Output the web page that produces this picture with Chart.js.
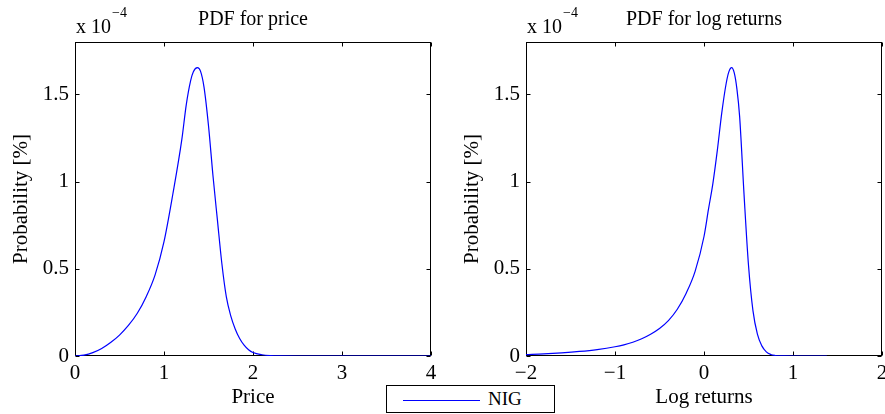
<!DOCTYPE html>
<html>
<head>
<meta charset="utf-8">
<script src="https://cdn.jsdelivr.net/npm/chart.js@4.4.1/dist/chart.umd.min.js"></script>
<style>
  html, body { margin: 0; padding: 0; background: #fff; }
  #wrap { position: relative; width: 885px; height: 414px; overflow: hidden; }
  #c1 { position: absolute; left: 0; top: 0; }
  #c2 { position: absolute; left: 442px; top: 0; }
  #legend { position: absolute; left: 386px; top: 385px; width: 167px; height: 26px;
            border: 1px solid #000; background: #fff; box-sizing: content-box; }
  #legend .ln { position: absolute; left: 16px; top: 14px; width: 77px; height: 1px; background: #0000ff; }
  #legend .tx { position: absolute; left: 101px; top: 2px; font: 19px 'Liberation Serif', serif; color: #000; }
</style>
</head>
<body>
<div id="wrap">
  <canvas id="c1" width="442" height="414"></canvas>
  <canvas id="c2" width="443" height="414"></canvas>
  <div id="legend"><div class="ln"></div><div class="tx">NIG</div></div>
</div>
<script>
// ---- data (y values in units of 1e-4) ----
const priceX = [0, 0.1, 0.2, 0.3, 0.4, 0.5, 0.6, 0.7, 0.8, 0.9, 1.0, 1.1, 1.2, 1.25, 1.3, 1.33, 1.375, 1.41, 1.45, 1.5, 1.55, 1.6, 1.65, 1.7, 1.75, 1.8, 1.85, 1.9, 1.95, 2.0, 2.1, 2.2, 2.3, 2.5, 3.0, 3.5, 4.0];
const pricePdf = [0, 0.005, 0.019, 0.043, 0.077, 0.12, 0.175, 0.245, 0.34, 0.465, 0.655, 0.93, 1.24, 1.44, 1.58, 1.63, 1.653, 1.633, 1.54, 1.32, 1.035, 0.78, 0.53, 0.34, 0.23, 0.155, 0.1, 0.062, 0.036, 0.02, 0.007, 0.002, 0.0005, 0, 0, 0, 0];
const logX = [-2, -1.8, -1.6, -1.4, -1.2, -1.0, -0.9, -0.8, -0.7, -0.6, -0.5, -0.4, -0.3, -0.2, -0.1, 0, 0.05, 0.1, 0.15, 0.2, 0.25, 0.28, 0.31, 0.34, 0.37, 0.4, 0.45, 0.5, 0.55, 0.6, 0.65, 0.7, 0.75, 0.8, 0.85, 0.9, 1.0, 1.2, 1.38];
const logPdf = [0.008, 0.012, 0.018, 0.026, 0.037, 0.053, 0.064, 0.079, 0.099, 0.125, 0.158, 0.203, 0.268, 0.36, 0.485, 0.685, 0.84, 0.99, 1.18, 1.395, 1.565, 1.63, 1.653, 1.623, 1.53, 1.375, 0.925, 0.52, 0.26, 0.125, 0.058, 0.024, 0.009, 0.003, 0.001, 0.0003, 0, 0, 0];
const yTicks = [0, 0.5, 1, 1.5];
const xTicksPrice = [0, 1, 2, 3, 4];
const xTicksLog = [-2, -1, 0, 1, 2];
const seriesName = 'NIG';
const titles = ['PDF for price', 'PDF for log returns'];
const xTitles = ['Price', 'Log returns'];
const yTitle = 'Probability [%]';
const exponentBase = 'x 10';
const exponentPow = '\u22124';

const FONT = "'Liberation Serif', serif";
Chart.defaults.font.family = FONT;
Chart.defaults.color = '#000';

const fmt = v => String(v).replace('-', '\u2212');

const framePlugin = {
  id: 'frame',
  beforeDatasetsDraw(chart) {
    const {ctx, chartArea: a, scales} = chart;
    const L = Math.round(a.left) + 0.5, R = Math.round(a.right) - 0.5;
    const T = Math.round(a.top) + 0.5, B = Math.round(a.bottom) - 0.5;
    ctx.save();
    ctx.strokeStyle = '#000';
    ctx.lineWidth = 1;
    ctx.strokeRect(L, T, R - L, B - T);
    const tl = 4;
    ctx.beginPath();
    scales.x.ticks.forEach(t => {
      const px = Math.round(scales.x.getPixelForValue(t.value)) + 0.5;
      ctx.moveTo(px, B); ctx.lineTo(px, B - tl);
      ctx.moveTo(px, T); ctx.lineTo(px, T + tl);
    });
    scales.y.ticks.forEach(t => {
      const py = Math.round(scales.y.getPixelForValue(t.value)) + 0.5;
      ctx.moveTo(L, py); ctx.lineTo(L + tl, py);
      ctx.moveTo(R, py); ctx.lineTo(R - tl, py);
    });
    ctx.stroke();
    ctx.restore();
  },
  afterDraw(chart) {
    const {ctx, chartArea: a} = chart;
    ctx.save();
    ctx.fillStyle = '#000';
    ctx.textBaseline = 'alphabetic';
    ctx.textAlign = 'left';
    ctx.font = '20px ' + FONT;
    const x0 = a.left + 1;
    ctx.fillText(exponentBase, x0, 33);
    const w = ctx.measureText(exponentBase).width;
    ctx.font = '14px ' + FONT;
    ctx.fillText(exponentPow, x0 + w + 1, 17);
    ctx.restore();
  }
};

function makeChart(id, xs, ys, xTicks, xmin, xmax, title, xTitle, pad) {
  return new Chart(document.getElementById(id), {
    type: 'line',
    data: {
      datasets: [{
        label: seriesName,
        data: xs.map((x, i) => ({x: x, y: ys[i]})),
        borderColor: '#0000ff',
        borderWidth: 1.2,
        pointRadius: 0,
        fill: false,
        cubicInterpolationMode: 'monotone'
      }]
    },
    options: {
      responsive: false,
      animation: false,
      layout: { padding: pad },
      plugins: {
        legend: { display: false },
        tooltip: { enabled: false },
        title: {
          display: true, text: title, fullSize: false,
          font: { size: 20, weight: 'normal', family: FONT, lineHeight: 1.2 },
          padding: { top: 8, bottom: 10 }, color: '#000'
        }
      },
      scales: {
        x: {
          type: 'linear', min: xmin, max: xmax,
          grid: { display: false, drawTicks: false },
          border: { display: false },
          afterBuildTicks: s => { s.ticks = xTicks.map(v => ({value: v})); },
          afterFit: s => { s.height = 58; s.paddingLeft = 0; s.paddingRight = 0; },
          ticks: { padding: 5, font: { size: 21, family: FONT }, color: '#000', maxRotation: 0, autoSkip: false, callback: v => fmt(v) },
          title: { display: true, text: xTitle, font: { size: 21, family: FONT, lineHeight: 1.2 }, color: '#000', padding: { top: 0, bottom: 4 } }
        },
        y: {
          min: 0, max: 1.8,
          grid: { display: false, drawTicks: false },
          border: { display: false },
          afterBuildTicks: s => { s.ticks = yTicks.map(v => ({value: v})); },
          afterFit: s => { s.width = 75; s.paddingTop = 0; s.paddingBottom = 0; },
          ticks: { padding: 6, font: { size: 21, family: FONT }, color: '#000', callback: v => fmt(v) },
          title: { display: true, text: yTitle, font: { size: 21, family: FONT, lineHeight: 1.2 }, color: '#000', padding: { top: 9, bottom: 0 } }
        }
      }
    },
    plugins: [framePlugin]
  });
}

makeChart('c1', priceX, pricePdf, xTicksPrice, 0, 4, titles[0], xTitles[0], {left: 0, right: 11, top: 0, bottom: 0});
makeChart('c2', logX, logPdf, xTicksLog, -2, 2, titles[1], xTitles[1], {left: 9, right: 3, top: 0, bottom: 0});
</script>
</body>
</html>
